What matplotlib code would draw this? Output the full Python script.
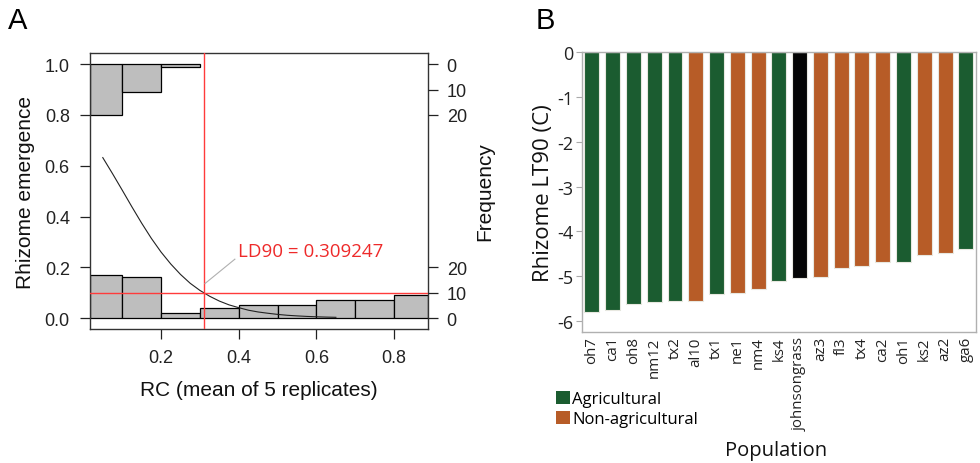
import matplotlib
matplotlib.use("Agg")
import matplotlib.pyplot as plt
import numpy as np
from matplotlib.patches import Patch

# ---- panel A data ----
bin_edges = [0.017, 0.1, 0.2, 0.3, 0.4, 0.5, 0.6, 0.7, 0.8, 0.887]
freq_zero = [17, 16, 2, 4, 5, 5, 7, 7, 9]      # response 0 (bottom histogram)
freq_one = [20, 11, 1, 0, 0, 0, 0, 0, 0]       # response 1 (top histogram)
freq_scale = 0.01
curve_x = [0.05, 0.075, 0.10, 0.125, 0.15, 0.175, 0.20, 0.225, 0.25, 0.275, 0.30,
           0.325, 0.35, 0.375, 0.40, 0.425, 0.45, 0.475, 0.50, 0.525, 0.55,
           0.575, 0.60, 0.625, 0.65]
curve_y = [0.632, 0.569, 0.504, 0.438, 0.374, 0.314, 0.260, 0.213, 0.172, 0.137, 0.109,
           0.086, 0.067, 0.052, 0.041, 0.031, 0.024, 0.019, 0.0145, 0.011, 0.0086,
           0.0066, 0.0051, 0.0039, 0.003]
ld90 = 0.309247

# ---- panel B data ----
populations = ['oh7', 'ca1', 'oh8', 'nm12', 'tx2', 'al10', 'tx1', 'ne1', 'nm4', 'ks4',
               'johnsongrass', 'az3', 'fl3', 'tx4', 'ca2', 'oh1', 'ks2', 'az2', 'ga6']
lt90 = [-5.80, -5.75, -5.63, -5.57, -5.55, -5.55, -5.40, -5.37, -5.30, -5.11,
        -5.05, -5.02, -4.81, -4.78, -4.68, -4.68, -4.53, -4.49, -4.40]
group = ['ag', 'ag', 'ag', 'ag', 'ag', 'non', 'ag', 'non', 'non', 'ag',
         'jg', 'non', 'non', 'non', 'non', 'ag', 'non', 'non', 'ag']

green = '#1b5c30'
orange = '#b75c27'
colors = {'ag': green, 'non': orange, 'jg': '#050505'}

fig = plt.figure(figsize=(9.8, 4.64), dpi=100)

# ================= panel A =================
rfont = 'Liberation Sans'
ax = fig.add_axes([0.0918, 0.2888, 0.3449, 0.5948])
lefts = np.array(bin_edges[:-1])
widths = np.diff(bin_edges)
ax.bar(lefts, np.array(freq_zero) * freq_scale, width=widths, bottom=0, align='edge',
       color='#bebebe', edgecolor='black', linewidth=0.9, zorder=2)
for l, w, f in zip(lefts, widths, freq_one):
    if f > 0:
        ax.bar(l, -f * freq_scale, width=w, bottom=1.0, align='edge',
               color='#bebebe', edgecolor='black', linewidth=0.9, zorder=2)
ax.plot(curve_x, curve_y, color='#222222', lw=0.8, zorder=3)
ax.axvline(ld90, color='#ff3b3b', lw=1.0, zorder=4)
ax.axhline(0.1, color='#ff3b3b', lw=1.0, zorder=4)
ax.plot([0.313, 0.39], [0.136, 0.232], color='#b0b0b0', lw=0.8, zorder=4)
ax.text(0.399, 0.266, 'LD90 = %.6f' % ld90, color='#ee2a2a', fontsize=13.5,
        family='Open Sans', va='center', ha='left', zorder=5)

ax.set_xlim(bin_edges[0], bin_edges[-1])
ax.set_ylim(-0.043, 1.044)
ax.set_xticks([0.2, 0.4, 0.6, 0.8])
ax.set_yticks([0.0, 0.2, 0.4, 0.6, 0.8, 1.0])
ax.set_yticklabels(['0.0', '0.2', '0.4', '0.6', '0.8', '1.0'])
ax.tick_params(direction='out', length=7.5, width=0.9, labelsize=13, pad=7,
               colors='#222222')
for lab in ax.get_xticklabels() + ax.get_yticklabels():
    lab.set_family(rfont)
for sp in ax.spines.values():
    sp.set_linewidth(1.0)
    sp.set_color('#333333')
ax.set_ylabel('Rhizome emergence', fontsize=15, family=rfont, labelpad=7, color='#111111')
ax.set_xlabel('RC (mean of 5 replicates)', fontsize=15, family=rfont, labelpad=10, color='#111111')

ax2 = ax.twinx()
ax2.set_ylim(ax.get_ylim())
rt = [0, 10, 20]
ax2.set_yticks([f * freq_scale for f in rt] + [1 - f * freq_scale for f in rt])
ax2.set_yticklabels([str(f) for f in rt] + [str(f) for f in rt])
ax2.tick_params(direction='out', length=7.5, width=0.9, labelsize=13, pad=6,
                colors='#222222')
for lab in ax2.get_yticklabels():
    lab.set_family(rfont)
for sp in ax2.spines.values():
    sp.set_visible(False)
ax2.set_ylabel('Frequency', fontsize=15, family=rfont, labelpad=6, color='#111111')

fig.text(0.008, 0.955, 'A', fontsize=21, family='Liberation Sans', va='center')

# ================= panel B =================
bfont = 'Open Sans'
bx = fig.add_axes([0.5936, 0.2823, 0.4023, 0.6028])
xpos = np.arange(len(populations))
bx.bar(xpos, lt90, width=0.72, color=[colors[g] for g in group],
       edgecolor='#e8e8e0', linewidth=0.8)
bx.set_xlim(-0.49, len(populations) - 0.51)
bx.set_ylim(-6.25, 0)
bx.set_yticks([0, -1, -2, -3, -4, -5, -6])
bx.set_yticklabels(['0', '-1', '-2', '-3', '-4', '-5', '-6'])
bx.set_xticks(xpos)
bx.set_xticklabels(populations, rotation=90)
bx.tick_params(axis='y', direction='out', length=4, width=0.8, color='#aaaaaa',
               labelsize=13, pad=2, labelcolor='#222222')
bx.tick_params(axis='x', length=0, labelsize=10.8, pad=3, labelcolor='#222222')
for lab in bx.get_xticklabels() + bx.get_yticklabels():
    lab.set_family(bfont)
for sp in bx.spines.values():
    sp.set_color('#b0b0b0')
    sp.set_linewidth(1.0)
bx.set_ylabel('Rhizome LT90 (C)', fontsize=16, family=bfont, labelpad=2, color='#111111')
fig.text(0.792, 0.028, 'Population', fontsize=14.5, family=bfont, ha='center', va='center',
         color='#111111')

handles = [Patch(facecolor=green, edgecolor='none', label='Agricultural'),
           Patch(facecolor=orange, edgecolor='none', label='Non-agricultural')]
fig.legend(handles=handles, loc='upper left', bbox_to_anchor=(0.567, 0.155), frameon=False,
           prop={'family': bfont, 'size': 12}, handlelength=0.85, handleheight=0.85,
           handletextpad=0.15, labelspacing=0.2, borderaxespad=0, borderpad=0)

fig.text(0.547, 0.955, 'B', fontsize=21, family='Liberation Sans', va='center')

fig.savefig('out.png', dpi=100)
